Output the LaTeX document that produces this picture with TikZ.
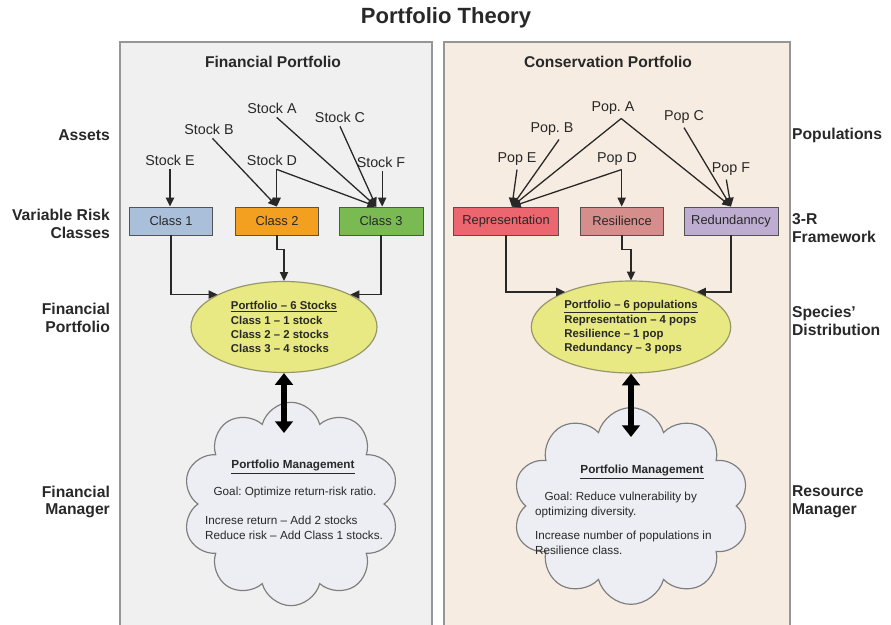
\documentclass[tikz,border=0pt]{standalone}
\usepackage{fontspec}
\setmainfont{Liberation Sans}
\usetikzlibrary{arrows.meta,positioning,shapes.geometric,shapes.symbols}
\frenchspacing
\definecolor{panelgray}{RGB}{240,240,240}
\definecolor{panelpeach}{RGB}{247,236,225}
\definecolor{panelline}{RGB}{150,150,150}
\definecolor{classone}{RGB}{170,192,218}
\definecolor{classtwo}{RGB}{243,160,32}
\definecolor{classthree}{RGB}{122,186,82}
\definecolor{repred}{RGB}{236,102,112}
\definecolor{respink}{RGB}{214,142,140}
\definecolor{redlilac}{RGB}{190,173,208}
\definecolor{ellyellow}{RGB}{232,233,130}
\definecolor{ellline}{RGB}{150,150,105}
\definecolor{cloudgray}{RGB}{237,238,243}
\definecolor{ink}{RGB}{40,40,40}

\begin{document}
\begin{tikzpicture}[x=0.03cm,y=-0.03cm,>={Triangle[length=7.5pt,width=7pt]},
  every node/.style={text=ink},
  arr/.style={->,line width=1.1pt,draw=ink},
  dbl/.style={{Triangle[length=10pt,width=15pt]}-{Triangle[length=10pt,width=15pt]},line width=5pt,draw=black},
  asset/.style={font=\fontsize{12.2}{14}\selectfont},
  classbox/.style={draw=ink!80,line width=0.8pt,minimum height=0.84cm,font=\fontsize{11}{13}\selectfont},
  sidelabel/.style={font=\fontsize{13.4}{15.3}\selectfont\bfseries},
  portell/.style={ellipse,draw=ellline,line width=1pt,fill=ellyellow,align=left,font=\fontsize{9.7}{11.9}\selectfont\bfseries},
  mgrcloud/.style={cloud,cloud puffs=10,cloud ignores aspect,draw=ink!60,fill=cloudgray,line width=1pt},
  mgtitle/.style={font=\fontsize{10}{12}\selectfont\bfseries},
  cloudtxt/.style={font=\fontsize{10}{12.3}\selectfont}]
  \useasboundingbox (0,0) rectangle (891,625);

  \path[fill=panelgray] (120,42) rectangle (432,625);
  \draw[panelline,line width=1.2pt] (120,625) |- (432,42) -- (432,625);
  \path[fill=panelpeach] (444,42) rectangle (790,625);
  \draw[panelline,line width=1.2pt] (444,625) |- (790,42) -- (790,625);

  \node[font=\fontsize{18.8}{22}\selectfont\bfseries] (title) at (446,18) {Portfolio Theory};
  \node[font=\fontsize{13.3}{16}\selectfont\bfseries] (fhead) at (273,62) {Financial Portfolio};
  \node[font=\fontsize{13.3}{16}\selectfont\bfseries] (chead) at (608,62) {Conservation Portfolio};

  \node[sidelabel,anchor=east,align=right] (lassets) at (114,135) {Assets};
  \node[sidelabel,anchor=east,align=right] (lclasses) at (114,224) {Variable Risk\\Classes};
  \node[sidelabel,anchor=east,align=right] (lport) at (114,318) {Financial\\Portfolio};
  \node[sidelabel,anchor=east,align=right] (lmgr) at (114,502) {Financial\\Manager};
  \node[sidelabel,anchor=west,align=left] (rpops) at (788,135) {Populations};
  \node[sidelabel,anchor=west,align=left] (rframe) at (788,228) {3-R\\Framework};
  \node[sidelabel,anchor=west,align=left] (rdist) at (788,321) {Species'\\Distribution};
  \node[sidelabel,anchor=west,align=left] (rmgr) at (788,502) {Resource\\Manager};

  \node[asset] (stockA) at (272,108) {Stock A};
  \node[asset] (stockB) at (209,129) {Stock B};
  \node[asset] (stockC) at (340,117) {Stock C};
  \node[asset] (stockD) at (272,160) {Stock D};
  \node[asset] (stockE) at (170,160) {Stock E};
  \node[asset] (stockF) at (381,162) {Stock F};

  \node[classbox,fill=classone,minimum width=2.49cm] (class1) at (171,221) {Class 1};
  \node[classbox,fill=classtwo,minimum width=2.49cm] (class2) at (277,221) {Class 2};
  \node[classbox,fill=classthree,minimum width=2.52cm] (class3) at (381,221) {Class 3};

  \coordinate (dtop) at ([xshift=4pt]stockD.south);
  \coordinate (c3in) at ([xshift=-4pt]class3.north);
  \draw[arr] (stockE.south) -- (stockE.south |- class1.north);
  \draw[arr] ([xshift=3pt]stockB.south) -- (class2.north);
  \draw[arr] (dtop) -- (dtop |- class2.north);
  \draw[arr] (dtop) -- (c3in);
  \draw[arr] ([xshift=4pt]stockA.south) -- (c3in);
  \draw[arr] (stockC.south) -- (c3in);
  \draw[arr] ([xshift=1pt]stockF.south) -- ([xshift=1pt]stockF.south |- class3.north);

  \node[portell,minimum width=5.58cm,minimum height=2.73cm] (port1) at (284,327) {
    \underline{Portfolio -- 6 Stocks}\\[1pt]
    Class 1 -- 1 stock\\
    Class 2 -- 2 stocks\\
    Class 3 -- 4 stocks
  };
  \draw[arr] (class1.south) |- (port1.154);
  \draw[arr] (class2.south) -- ++(0,14) -| (port1.north);
  \draw[arr] (class3.south) |- (port1.26);

  \node[mgrcloud,minimum width=6.5cm,minimum height=6.1cm] (cloud1) at (291,504) {};
  \coordinate (m1) at (284,433);
  \draw[dbl] (port1.south) -- (m1);
  \node[mgtitle] (mt1) at (293,467) {\underline{Portfolio Management}};
  \node[cloudtxt] (goal1) at (295,492) {Goal: Optimize return-risk ratio.};
  \node[cloudtxt,anchor=west,align=left] (act1) at (201,528) {Increse return -- Add 2 stocks\\Reduce risk -- Add Class 1 stocks.};

  \node[asset] (popA) at (613,108) {Pop. A};
  \node[asset] (popB) at (552,129) {Pop. B};
  \node[asset] (popC) at (684,117) {Pop C};
  \node[asset] (popD) at (617,159) {Pop D};
  \node[asset] (popE) at (517,159) {Pop E};
  \node[asset] (popF) at (731,169) {Pop F};

  \node[classbox,fill=repred,minimum width=3.15cm] (rep) at (506,221) {Representation};
  \node[classbox,fill=respink,minimum width=2.49cm] (res) at (622,221) {Resilience};
  \node[classbox,fill=redlilac,minimum width=2.82cm] (redu) at (731,221) {Redundanncy};

  \coordinate (atop) at ([xshift=7pt]popA.south);
  \coordinate (ptop) at ([xshift=4pt]popD.south);
  \coordinate (repin) at ([xshift=5pt]rep.north);
  \draw[arr] (popE.south) -- (repin);
  \draw[arr] ([xshift=6pt]popB.south) -- (repin);
  \draw[arr] (atop) -- (repin);
  \draw[arr] (atop) -- (redu.north);
  \draw[arr] (ptop) -- (repin);
  \draw[arr] (ptop) -- (ptop |- res.north);
  \draw[arr] (popC.south) -- (redu.north);
  \draw[arr] ([xshift=-4pt]popF.south) -- (redu.north);

  \node[portell,minimum width=5.85cm,minimum height=2.76cm] (port2) at (631,327) {
    \underline{Portfolio -- 6 populations}\\[1pt]
    Representation -- 4 pops\\
    Resilience -- 1 pop\\
    Redundancy -- 3 pops
  };
  \draw[arr] (rep.south) |- (port2.152);
  \draw[arr] (res.south) -- ++(0,14) -| (port2.north);
  \draw[arr] (redu.south) |- (port2.28);

  \node[mgrcloud,minimum width=7.1cm,minimum height=5.9cm] (cloud2) at (631,506) {};
  \coordinate (m2) at (631,437);
  \draw[dbl] (port2.south) -- (m2);
  \node[mgtitle] (mt2) at (642,472) {\underline{Portfolio Management}};
  \node[cloudtxt,anchor=west,align=left] (goal2) at (531,505) {\hspace*{8pt}Goal: Reduce vulnerability by\\optimizing diversity.};
  \node[cloudtxt,anchor=west,align=left] (act2) at (531,543) {Increase number of populations in\\Resilience class.};
\end{tikzpicture}
\end{document}
